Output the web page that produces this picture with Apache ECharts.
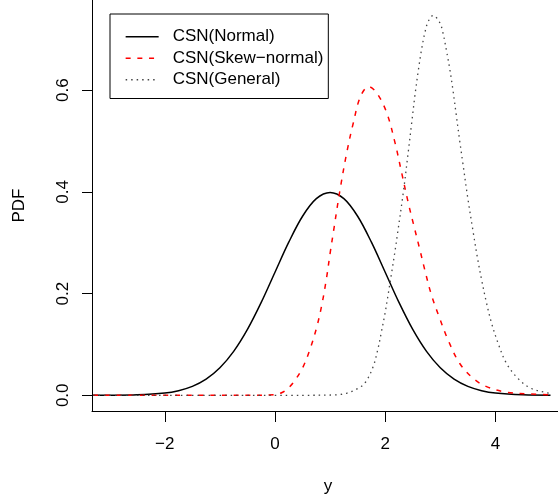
<!DOCTYPE html>
<html><head><meta charset="utf-8">
<script src="https://cdn.jsdelivr.net/npm/echarts@6/dist/echarts.min.js"></script>
<style>html,body{margin:0;padding:0;background:#fff}#c{width:558px;height:503px}</style>
</head><body><div id="c"></div>
<script>
const seriesNames = ['CSN(Normal)', 'CSN(Skew\u2212normal)', 'CSN(General)'];
const xTicks = [-2, 0, 2, 4];
const yTicks = [0, 0.2, 0.4, 0.6];
const xTitle = 'y';
const yTitle = 'PDF';

const normalX = [-3.3,-3,-2.5,-2,-1.75,-1.5,-1.25,-1,-0.75,-0.5,-0.25,0,0.25,0.5,0.75,1,1.25,1.5,1.75,2,2.25,2.5,2.75,3,3.25,3.5,3.75,4,4.5,5];
const normalY = [0.0000,0.0001,0.0009,0.0044,0.0091,0.0175,0.0317,0.054,0.0863,0.1295,0.1826,0.242,0.3011,0.3521,0.3867,0.3989,0.3867,0.3521,0.3011,0.242,0.1826,0.1295,0.0863,0.054,0.0317,0.0175,0.0091,0.0044,0.0009,0.0001];

const skewX = [-3.3,-0.5,0,0.12,0.24,0.36,0.51,0.64,0.76,0.85,0.93,1.0,1.06,1.18,1.30,1.42,1.55,1.70,1.85,2.03,2.18,2.30,2.42,2.51,2.63,2.72,2.84,2.99,3.14,3.35,3.6,3.84,4.2,4.64,5.0];
const skewY = [0,0,0.001,0.005,0.014,0.029,0.056,0.092,0.135,0.178,0.227,0.279,0.321,0.404,0.476,0.535,0.587,0.607,0.594,0.555,0.496,0.437,0.378,0.338,0.286,0.246,0.197,0.151,0.109,0.063,0.033,0.017,0.006,0.0026,0.001];

const genX = [-3.3,0.5,1.12,1.30,1.48,1.63,1.78,1.87,1.93,2.0,2.05,2.12,2.18,2.22,2.33,2.42,2.48,2.54,2.60,2.66,2.72,2.78,2.87,2.99,3.05,3.11,3.17,3.23,3.29,3.35,3.41,3.50,3.60,3.67,3.75,3.84,3.93,4.05,4.20,4.41,4.64,4.93,5.0];
const genY = [0,0,0.001,0.004,0.012,0.024,0.056,0.092,0.124,0.163,0.196,0.243,0.285,0.315,0.400,0.480,0.535,0.590,0.638,0.680,0.713,0.735,0.747,0.733,0.712,0.679,0.643,0.600,0.551,0.502,0.456,0.387,0.319,0.273,0.227,0.181,0.142,0.102,0.063,0.033,0.014,0.005,0.004];

const pairs = (xs, ys) => xs.map((x, i) => [x, ys[i]]);
const FONT = '"Liberation Sans", Arial, Helvetica, sans-serif';
const fmtX = v => (v < 0 ? '\u2212' + Math.abs(v) : String(v));
const fmtY = v => Number(v).toFixed(1);

const chart = echarts.init(document.getElementById('c'), null, {renderer: 'canvas'});
chart.setOption({
  animation: false,
  backgroundColor: '#fff',
  textStyle: {fontFamily: FONT, color: '#000'},
  grid: {left: 92, width: 472, top: 0, height: 411, containLabel: false, outerBoundsMode: 'none'},
  legend: {
    orient: 'vertical', left: 110, top: 14,
    padding: [12, 5, 8, 15],
    borderColor: '#000', borderWidth: 1, borderRadius: 0,
    itemWidth: 33, itemHeight: 14, itemGap: 0,
    itemStyle: {opacity: 0},
    lineStyle: {width: 1.3},
    textStyle: {fontFamily: FONT, fontSize: 17, color: '#000', lineHeight: 21.5, padding: [0, 0, 0, 9]},
    data: seriesNames,
    selectedMode: false
  },
  xAxis: {
    type: 'value', min: -3.321, max: 5.245,
    name: xTitle, nameLocation: 'middle', nameGap: 67,
    nameTextStyle: {fontFamily: FONT, fontSize: 17, color: '#000'},
    axisLine: {show: true, onZero: false, lineStyle: {color: '#000', width: 1}},
    axisTick: {show: true, length: 11, customValues: xTicks, lineStyle: {color: '#000', width: 1}},
    axisLabel: {show: true, customValues: xTicks, margin: 25, fontSize: 17, color: '#000', fontFamily: FONT, formatter: fmtX},
    splitLine: {show: false}
  },
  yAxis: {
    type: 'value', min: -0.0309, max: 0.7774,
    name: yTitle, nameLocation: 'middle', nameGap: 64, nameRotate: 90,
    nameTextStyle: {fontFamily: FONT, fontSize: 17, color: '#000'},
    axisLine: {show: true, onZero: false, lineStyle: {color: '#000', width: 1}},
    axisTick: {show: true, length: 10, customValues: yTicks, lineStyle: {color: '#000', width: 1}},
    axisLabel: {show: true, customValues: yTicks, rotate: 90, margin: 20, fontSize: 17, color: '#000', fontFamily: FONT, formatter: fmtY},
    splitLine: {show: false}
  },
  series: [
    {name: seriesNames[0], type: 'line', data: pairs(normalX, normalY), symbol: 'none', smooth: 0.35,
     lineStyle: {color: '#000', width: 1.5, type: 'solid'}, itemStyle: {color: '#000'}},
    {name: seriesNames[1], type: 'line', data: pairs(skewX, skewY), symbol: 'none', smooth: 0.35,
     lineStyle: {color: '#ff0000', width: 1.5, type: [5, 6.7]}, itemStyle: {color: '#ff0000'}},
    {name: seriesNames[2], type: 'line', data: pairs(genX, genY), symbol: 'none', smooth: 0.35,
     lineStyle: {color: '#444', width: 1.3, type: [1.5, 4]}, itemStyle: {color: '#444'}}
  ]
});
</script>
</body></html>
